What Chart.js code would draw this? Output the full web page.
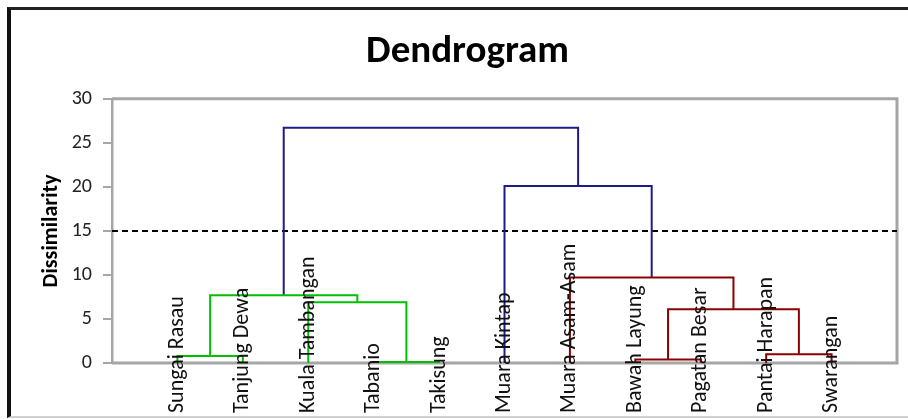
<!DOCTYPE html>
<html lang="id">
<head>
<meta charset="UTF-8">
<title>Dendrogram</title>
<script src="https://cdn.jsdelivr.net/npm/chart.js"></script>
<style>
  html, body { margin: 0; padding: 0; background: #fff; }
  #wrap { position: relative; width: 908px; height: 419px; overflow: hidden; }
  #moldura { position: absolute; left: 7px; top: 7px; width: 910px; height: 406px;
             border-left: 4px solid #111; border-top: 3px solid #222; border-bottom: 2px solid #d0d0d0; }
  canvas { position: absolute; left: 0; top: 0; }
</style>
</head>
<body>
<div id="wrap">
  <div id="moldura"></div>
  <canvas id="grafico" width="908" height="419"></canvas>
</div>
<script>
// folhas do dendrograma, na ordem do eixo x
const folhas = ["Sungai Rasau", "Tanjung Dewa", "Kuala Tambangan", "Tabanio", "Takisung",
                "Muara Kintap", "Muara Asam-Asam", "Bawah Layung", "Pagatan Besar",
                "Pantai Harapan", "Swarangan"];
// junções: nós 0..10 = folhas, cada junção cria o nó 11, 12, ...
const juntaA  = [3, 7, 0, 9, 12, 2, 13, 6, 5, 17];
const juntaB  = [4, 8, 1, 10, 14, 11, 16, 15, 18, 19];
const alturas = [0.1, 0.4, 0.8, 1.0, 6.1, 6.9, 7.7, 9.7, 20.1, 26.7];
const corte = 15;
const yTicks = [0, 5, 10, 15, 20, 25, 30];

const VERDE = '#00c000', VERMELHO = '#8b0000', AZUL = '#1c1c8c';
const coresJunta = [VERDE, VERMELHO, VERDE, VERMELHO, VERMELHO, VERDE, VERDE, VERMELHO, AZUL, AZUL];
const fonte = 'Carlito, Lato, sans-serif';

// posição e altura de cada nó
const noX = folhas.map((f, i) => i + 1);
const noH = folhas.map(() => 0);
const datasets = [];
juntaA.forEach((a, k) => {
  const b = juntaB[k], h = alturas[k];
  datasets.push({
    data: [{x: noX[a], y: noH[a]}, {x: noX[a], y: h}, {x: noX[b], y: h}, {x: noX[b], y: noH[b]}],
    borderColor: coresJunta[k],
    borderWidth: 2
  });
  noX.push((noX[a] + noX[b]) / 2);
  noH.push(h);
});
datasets.push({
  data: [{x: 0, y: corte}, {x: folhas.length + 1, y: corte}],
  borderColor: '#000',
  borderWidth: 2,
  borderDash: [6, 4]
});

const moldura = {
  id: 'moldura',
  beforeDatasetsDraw(chart) {
    const {ctx, chartArea: a} = chart;
    ctx.save();
    ctx.strokeStyle = '#a6a6a6';
    ctx.lineWidth = 3;
    ctx.beginPath();
    ctx.moveTo(a.left, a.top);
    ctx.lineTo(a.right, a.top);
    ctx.lineTo(a.right, a.bottom);
    ctx.lineTo(a.left, a.bottom);
    ctx.stroke();
    ctx.restore();
  }
};

const rotulos = {
  id: 'rotulos',
  afterDatasetsDraw(chart) {
    const {ctx} = chart;
    const sx = chart.scales.x;
    ctx.save();
    ctx.fillStyle = '#111';
    ctx.font = '22px ' + fonte;
    ctx.textAlign = 'left';
    ctx.textBaseline = 'middle';
    folhas.forEach((nome, i) => {
      ctx.save();
      ctx.translate(sx.getPixelForValue(i + 1), 413);
      ctx.rotate(-Math.PI / 2);
      ctx.fillText(nome, 0, 0);
      ctx.restore();
    });
    ctx.restore();
  }
};

const ctx = document.getElementById('grafico');
let grafico = new Chart(ctx, {
  type: 'line',
  data: { datasets: datasets },
  plugins: [moldura, rotulos],
  options: {
    responsive: false,
    animation: false,
    elements: { point: { radius: 0 }, line: { tension: 0 } },
    layout: { padding: { left: 38, right: 11, top: 0, bottom: 56 } },
    plugins: {
      legend: { display: false },
      tooltip: { enabled: false },
      title: {
        display: true,
        text: 'Dendrogram',
        color: '#000',
        font: { family: fonte, size: 39, weight: 'bold' },
        padding: { top: 29, bottom: 23 }
      }
    },
    scales: {
      x: { type: 'linear', min: 0, max: folhas.length + 1, display: false },
      y: {
        min: 0, max: 30,
        afterBuildTicks: s => { s.ticks = yTicks.map(v => ({value: v})); },
        afterFit: s => { s.width = 74; },
        grid: { drawOnChartArea: false, drawTicks: true, tickLength: 9, color: '#a6a6a6', lineWidth: 2 },
        border: { color: '#a6a6a6', width: 2.5 },
        ticks: { padding: 11, color: '#222', font: { family: fonte, size: 20 } },
        title: {
          display: true, text: 'Dissimilarity', color: '#000',
          font: { family: fonte, size: 22, weight: 'bold' },
          padding: { top: 0, bottom: 0 }
        }
      }
    }
  }
});
</script>
</body>
</html>
